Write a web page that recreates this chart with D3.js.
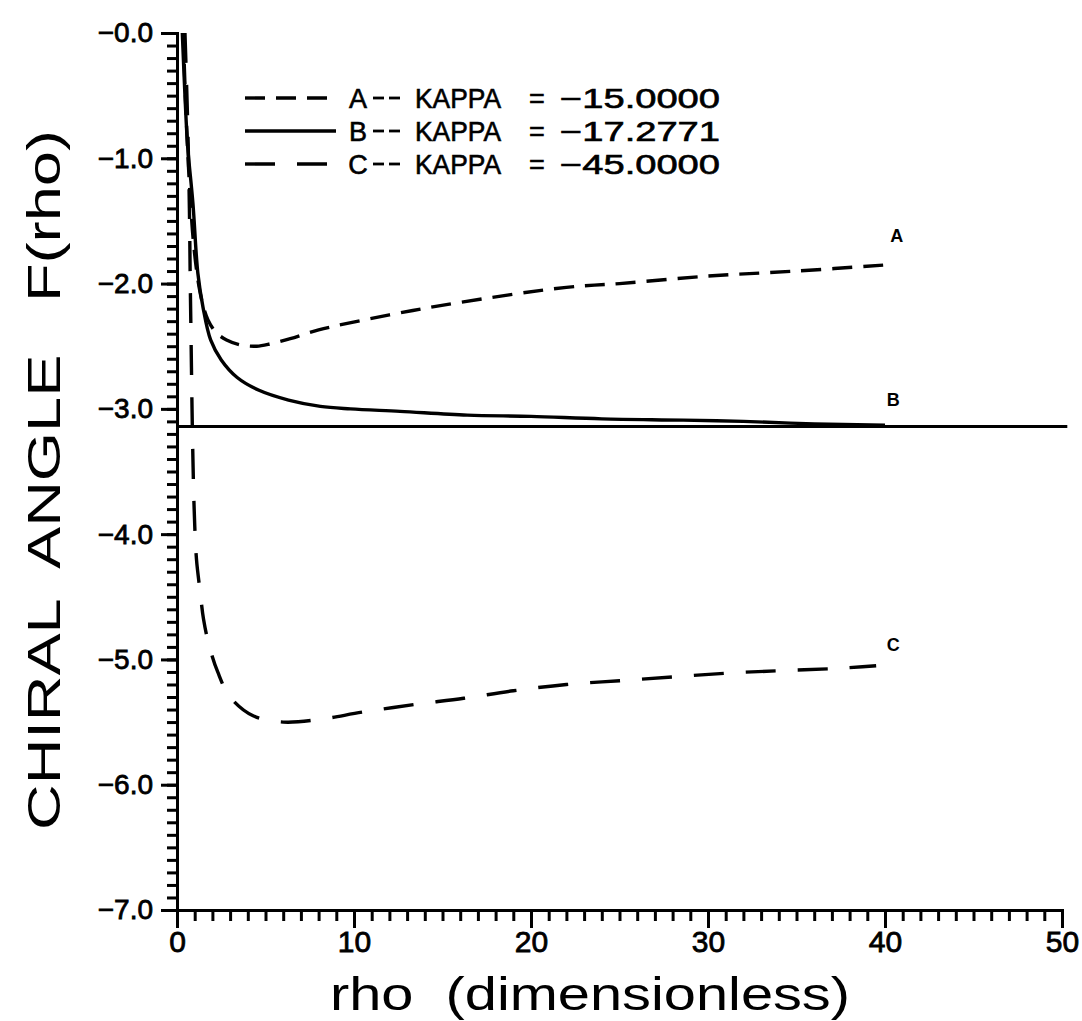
<html>
<script src="https://d3js.org/d3.v7.min.js"></script>
<body style="margin:0;background:#fff">
<script>
    // values
    var rhoA = [0.35, 0.5, 0.7, 0.95, 1.25, 1.5, 1.75, 2.2, 2.8, 3.6, 4.5, 5.3, 6.4, 8, 12, 16, 22, 25, 30, 35, 40.2]
    var fA   = [0, -0.6, -1.2, -1.7, -2.03, -2.19, -2.29, -2.39, -2.45, -2.49, -2.5, -2.48, -2.44, -2.37, -2.25, -2.15, -2.03, -2.0, -1.94, -1.9, -1.85]
    var rhoB = [0.3, 0.45, 0.6, 0.9, 1.18, 1.47, 1.9, 2.5, 3.4, 4.6, 6.3, 8.1, 9.8, 12.6, 16.4, 20, 24, 28.6, 32, 36, 40]
    var fB   = [0, -0.5, -0.9, -1.36, -1.92, -2.19, -2.45, -2.61, -2.75, -2.85, -2.93, -2.98, -3.0, -3.02, -3.05, -3.06, -3.08, -3.09, -3.1, -3.12, -3.13]
    var rhoC = [0.45, 0.6, 0.7, 0.75, 0.8, 0.85, 0.9, 0.97, 1.1, 1.3, 1.5, 1.8, 2.3, 3.0, 4.3, 6, 8, 10.5, 13.4, 16.2, 19, 22, 25, 28, 31, 34, 37.5, 39.5]
    var fC   = [0, -0.7, -1.4, -2.0, -2.5, -3.0, -3.4, -3.8, -4.2, -4.45, -4.68, -4.88, -5.1, -5.3, -5.45, -5.5, -5.48, -5.42, -5.36, -5.31, -5.25, -5.2, -5.17, -5.14, -5.11, -5.09, -5.07, -5.05]
    var piLevel = -3.14159
    var curveNames = ['A', 'B', 'C']
    var kappas = ['\u221215.0000', '\u221217.2771', '\u221245.0000']
    var xTicks = [0, 10, 20, 30, 40, 50]
    var yTicks = [0, -1, -2, -3, -4, -5, -6, -7]
    var yTickLabels = ['\u22120.0', '\u22121.0', '\u22122.0', '\u22123.0', '\u22124.0', '\u22125.0', '\u22126.0', '\u22127.0']

    var width = 1082, height = 1021
    var svg = d3.select('body').append('svg').attr('width', width).attr('height', height)
    svg.append('rect').attr('width', width).attr('height', height).attr('fill', '#fff')

    var x = d3.scaleLinear().domain([0, 50]).range([177, 1062])
    var y = d3.scaleLinear().domain([0, -7]).range([33, 910])
    var font = '"Liberation Sans", Arial, sans-serif'

    // axes: minor ticks first, then majors with labels
    var gx = svg.append('g').attr('transform', 'translate(0,910)')
    gx.call(d3.axisBottom(x).tickValues(d3.range(0, 51, 1)).tickSize(11).tickFormat(''))
    gx.append('g').call(d3.axisBottom(x).tickValues(xTicks).tickSize(18).tickFormat(d3.format('d')))
    gx.selectAll('path.domain').attr('stroke', '#000').attr('stroke-width', 3)
    gx.selectAll('line').attr('stroke', '#000').attr('stroke-width', 3)
    gx.selectAll('text').attr('font-family', font).attr('font-size', 30).attr('fill', '#000')
        .attr('stroke', '#000').attr('stroke-width', 0.8).attr('dy', '0.95em').attr('y', 13)

    var gy = svg.append('g').attr('transform', 'translate(177,0)')
    gy.call(d3.axisLeft(y).tickValues(d3.range(0, 71, 1).map(function(d){return -d/10})).tickSize(10).tickFormat(''))
    gy.append('g').call(d3.axisLeft(y).tickValues(yTicks).tickSize(16).tickFormat(function(d, i){return yTickLabels[i]}))
    gy.selectAll('path.domain').attr('stroke', '#000').attr('stroke-width', 3)
    gy.selectAll('line').attr('stroke', '#000').attr('stroke-width', 3)
    gy.selectAll('text').attr('font-family', font).attr('font-size', 28).attr('fill', '#000')
        .attr('stroke', '#000').attr('stroke-width', 0.8).attr('x', -24)

    // asymptote F = -pi
    svg.append('line').attr('x1', x(0)).attr('x2', x(50.3)).attr('y1', y(piLevel)).attr('y2', y(piLevel))
        .attr('stroke', '#000').attr('stroke-width', 3)

    var line = d3.line().x(function(d){return x(d[0])}).y(function(d){return y(d[1])}).curve(d3.curveCatmullRom.alpha(0.5))
    var series = [
        {pts: d3.zip(rhoA, fA), dash: '20,11'},
        {pts: d3.zip(rhoB, fB), dash: null},
        {pts: d3.zip(rhoC, fC), dash: '30,22'}
    ]
    series.forEach(function(s){
        svg.append('path').attr('d', line(s.pts)).attr('fill', 'none').attr('stroke', '#000')
            .attr('stroke-width', 3.4).attr('stroke-dasharray', s.dash)
    })

    // curve end labels
    var endLabels = [[40.3, -1.67], [40.1, -2.98], [40.1, -4.93]]
    endLabels.forEach(function(p, i){
        svg.append('text').attr('x', x(p[0])).attr('y', y(p[1])).text(curveNames[i])
            .attr('font-family', font).attr('font-size', 18).attr('font-weight', 'bold')
    })

    // legend
    var legY = [98, 131, 164]
    series.forEach(function(s, i){
        svg.append('line').attr('x1', 245).attr('x2', 336).attr('y1', legY[i]).attr('y2', legY[i])
            .attr('stroke', '#000').attr('stroke-width', 3.4).attr('stroke-dasharray', s.dash)
        var t = svg.append('g').attr('font-family', font).attr('font-size', 27).attr('fill', '#000')
            .attr('stroke', '#000').attr('stroke-width', 0.6)
        t.append('text').attr('x', 358).attr('y', legY[i] + 10).attr('text-anchor', 'middle').text(curveNames[i])
        t.append('line').attr('x1', 373).attr('x2', 384).attr('y1', legY[i]).attr('y2', legY[i]).attr('stroke-width', 2.8)
        t.append('line').attr('x1', 389).attr('x2', 400).attr('y1', legY[i]).attr('y2', legY[i]).attr('stroke-width', 2.8)
        t.append('text').attr('x', 415).attr('y', legY[i] + 10).attr('textLength', 86).attr('lengthAdjust', 'spacingAndGlyphs').text('KAPPA')
        t.append('text').attr('x', 537).attr('y', legY[i] + 10).attr('text-anchor', 'middle').text('=')
        t.append('text').attr('x', 560).attr('y', legY[i] + 10).attr('textLength', 160).attr('lengthAdjust', 'spacingAndGlyphs').text(kappas[i])
    })

    // axis titles
    svg.append('text').attr('x', 330).attr('y', 1010)
        .attr('font-family', font).attr('font-size', 46).attr('xml:space', 'preserve')
        .attr('textLength', 520).attr('lengthAdjust', 'spacingAndGlyphs').text('rho  (dimensionless)')
    svg.append('text').attr('transform', 'translate(60,830) rotate(-90)')
        .attr('font-family', font).attr('font-size', 47).attr('xml:space', 'preserve')
        .attr('textLength', 700).attr('lengthAdjust', 'spacingAndGlyphs').text('CHIRAL  ANGLE   F(rho)')
</script>
</body>
</html>
